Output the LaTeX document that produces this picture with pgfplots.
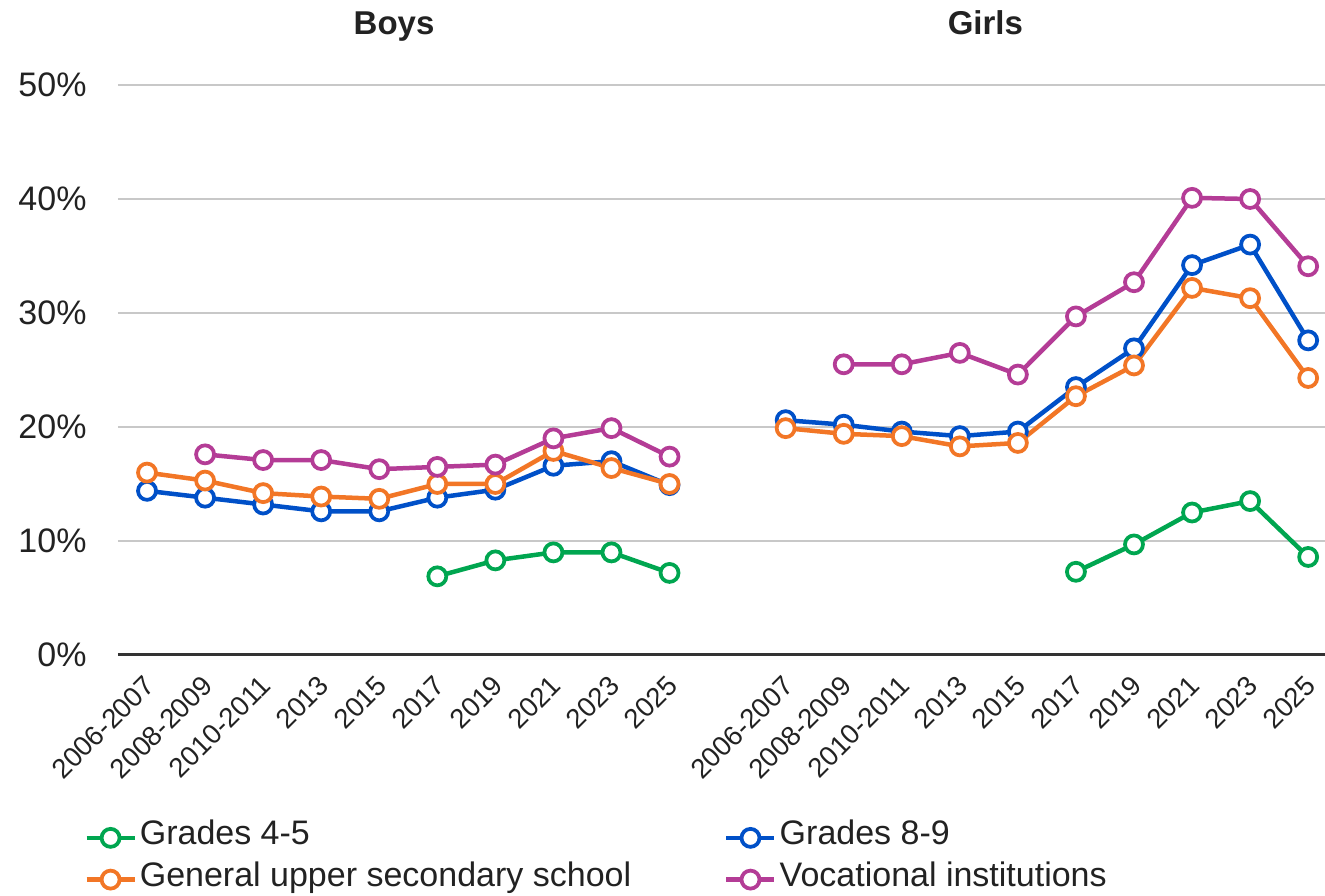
\documentclass[border=0pt]{standalone}
\usepackage{pgfplots}
\pgfplotsset{compat=1.18}
\usepackage{fontspec}
\setmainfont{Liberation Sans}
\definecolor{cgreen}{RGB}{0,166,80}
\definecolor{cblue}{RGB}{0,80,200}
\definecolor{corange}{RGB}{242,118,38}
\definecolor{cpurple}{RGB}{180,60,150}
\definecolor{ctext}{RGB}{34,34,34}
\definecolor{cgrid}{RGB}{200,200,200}
\begin{document}
\begin{tikzpicture}
\path[use as bounding box] (-47.2pt,-96.4pt) rectangle (482.8pt,262pt);
\begin{axis}[
  at={(0pt,0pt)}, anchor=south west,
  scale only axis, width=482.8pt, height=228pt,
  xmin=-0.5, xmax=20.29, ymin=0, ymax=50,
  clip=false,
  axis line style={draw=none},
  tick style={draw=none},
  ytick={0,10,20,30,40,50},
  yticklabels={0\%,10\%,20\%,30\%,40\%,50\%},
  yticklabel style={font=\fontsize{13.6pt}{15pt}\selectfont, text=ctext, anchor=east, inner sep=0pt, xshift=-12.4pt},
  ymajorgrids, grid style={cgrid, line width=0.6pt},
  xtick={0,1,2,3,4,5,6,7,8,9,11,12,13,14,15,16,17,18,19,20},
  xticklabels={2006-2007,2008-2009,2010-2011,2013,2015,2017,2019,2021,2023,2025,2006-2007,2008-2009,2010-2011,2013,2015,2017,2019,2021,2023,2025},
  xticklabel style={font=\fontsize{11pt}{12pt}\selectfont, text=ctext, xshift=1.2pt, yshift=-10.2pt, rotate=45, anchor=east, inner sep=0pt},
  every axis plot/.append style={line width=1.8pt, mark=o, mark size=3.6pt, mark options={fill=white, line width=1.5pt}},
  legend columns=2,
  legend cell align=left,
  legend image code/.code={\draw[mark repeat=2,mark phase=2] plot coordinates {(0pt,0pt) (9.6pt,0pt) (19.2pt,0pt)};},
  legend style={draw=none, fill=none, at={(-0.0283,-0.2991)}, anchor=north west, inner sep=0pt,
    font=\fontsize{13.6pt}{15pt}\selectfont, text=ctext, row sep=7.2pt,
    nodes={text height=0.75em, text depth=0.2em, inner ysep=0pt, inner xsep=1.2pt},
    /tikz/every even column/.append style={column sep=36pt}},
]
\draw[color={rgb,255:red,51;green,51;blue,51}, line width=1.2pt] (axis cs:-0.5,0) -- (axis cs:20.29,0);
% Grades 4-5
\addplot[cgreen, mark=*] coordinates {(5,6.9) (6,8.3) (7,9.0) (8,9.0) (9,7.2)};
\addlegendentry{Grades 4-5}
% Grades 8-9
\addplot[cblue, mark=*] coordinates {(0,14.4) (1,13.8) (2,13.2) (3,12.6) (4,12.6) (5,13.8) (6,14.5) (7,16.6) (8,17.0) (9,14.9)};
\addlegendentry{Grades 8-9}
% General upper secondary
\addplot[corange, mark=*] coordinates {(0,16.0) (1,15.3) (2,14.2) (3,13.9) (4,13.7) (5,15.0) (6,15.0) (7,17.9) (8,16.4) (9,15.0)};
\addlegendentry{General upper secondary school}
% Vocational
\addplot[cpurple, mark=*] coordinates {(1,17.6) (2,17.1) (3,17.1) (4,16.3) (5,16.5) (6,16.7) (7,19.0) (8,19.9) (9,17.4)};
\addlegendentry{Vocational institutions}
% Girls
\addplot[cgreen, mark=*, forget plot] coordinates {(16,7.3) (17,9.7) (18,12.5) (19,13.5) (20,8.6)};
\addplot[cblue, mark=*, forget plot] coordinates {(11,20.6) (12,20.2) (13,19.6) (14,19.2) (15,19.6) (16,23.5) (17,26.9) (18,34.2) (19,36.0) (20,27.6)};
\addplot[corange, mark=*, forget plot] coordinates {(11,19.9) (12,19.4) (13,19.2) (14,18.3) (15,18.6) (16,22.7) (17,25.4) (18,32.2) (19,31.3) (20,24.3)};
\addplot[cpurple, mark=*, forget plot] coordinates {(12,25.5) (13,25.5) (14,26.5) (15,24.6) (16,29.7) (17,32.7) (18,40.1) (19,40.0) (20,34.1)};
\node[anchor=base, font=\bfseries\fontsize{13.2pt}{15pt}\selectfont, text=ctext] at (axis cs:4.255,54.4) {Boys};
\node[anchor=base, font=\bfseries\fontsize{13.2pt}{15pt}\selectfont, text=ctext] at (axis cs:14.44,54.4) {Girls};
\end{axis}
\end{tikzpicture}
\end{document}
